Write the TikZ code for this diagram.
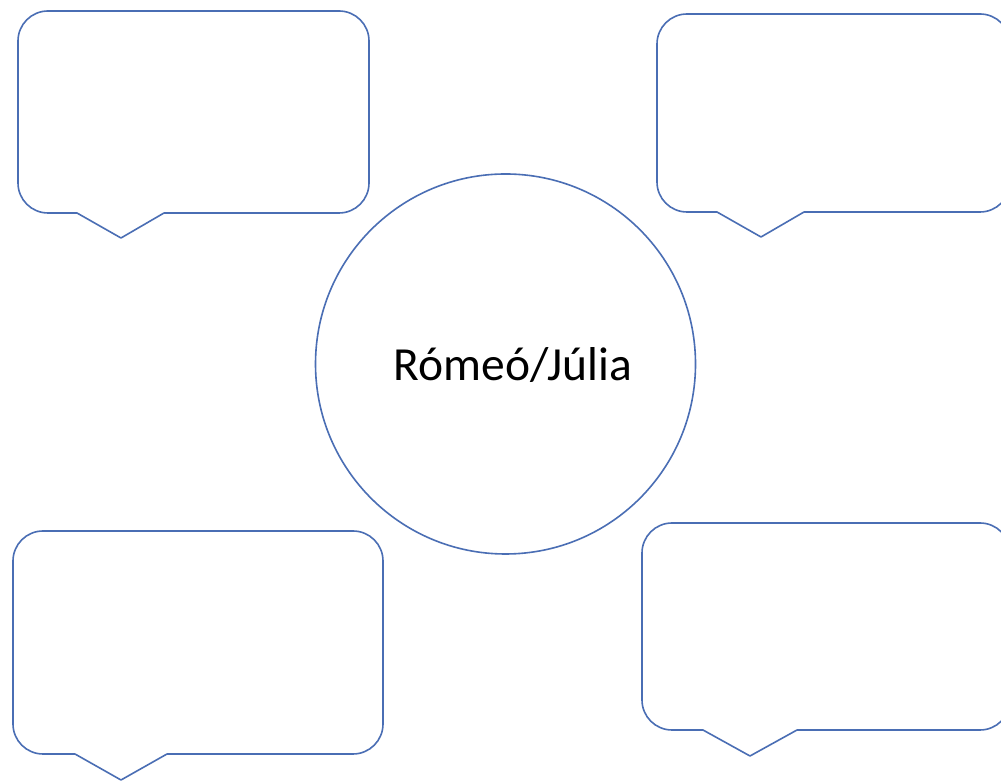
\documentclass[tikz,border=0pt]{standalone}
\usepackage{fontspec}
\newfontfamily\calib{Carlito}
\definecolor{lineblue}{HTML}{4A6EB4}
\tikzset{
  bubble/.style={draw=lineblue, line width=1.6pt, line join=round},
  hub/.style={circle, draw=lineblue, line width=1.6pt, minimum size=380pt, inner sep=0pt},
  hubtext/.style={font=\calib\fontsize{47.5}{57}\selectfont, anchor=base, inner sep=0pt}
}
% #1 left, #2 top, #3 right, #4 bottom, #5 tail left, #6 apex x, #7 apex y, #8 tail right
\newcommand\mycallout[8]{%
  \draw[bubble] ({#1+30},#2) -- ({#3-30},#2)
    arc[start angle=90,end angle=0,radius=30pt] -- (#3,{#4+30})
    arc[start angle=0,end angle=-90,radius=30pt] -- (#8,#4) -- (#6,#7) -- (#5,#4) -- ({#1+30},#4)
    arc[start angle=270,end angle=180,radius=30pt] -- (#1,{#2-30})
    arc[start angle=180,end angle=90,radius=30pt] -- cycle;}
\begin{document}
\begin{tikzpicture}[x=1pt,y=1pt]
\useasboundingbox (0,0) rectangle (1001,781);
\clip (0,0) rectangle (1001,781);
\fill[white] (0,0) rectangle (1001,781);
% top-left
\mycallout{18}{770}{369}{568}{77}{121}{543}{164}
% top-right
\mycallout{657}{767}{1010}{569}{717}{761}{544}{804}
% bottom-left
\mycallout{13}{250}{383}{27}{75}{121}{1}{167}
% bottom-right
\mycallout{642}{258}{1010}{51}{703}{750}{25}{797}
\node[hub] (centre) at (505.5,417) {};
\node[hubtext] (label) at (513,400) {Rómeó/Júlia};
\end{tikzpicture}
\end{document}
